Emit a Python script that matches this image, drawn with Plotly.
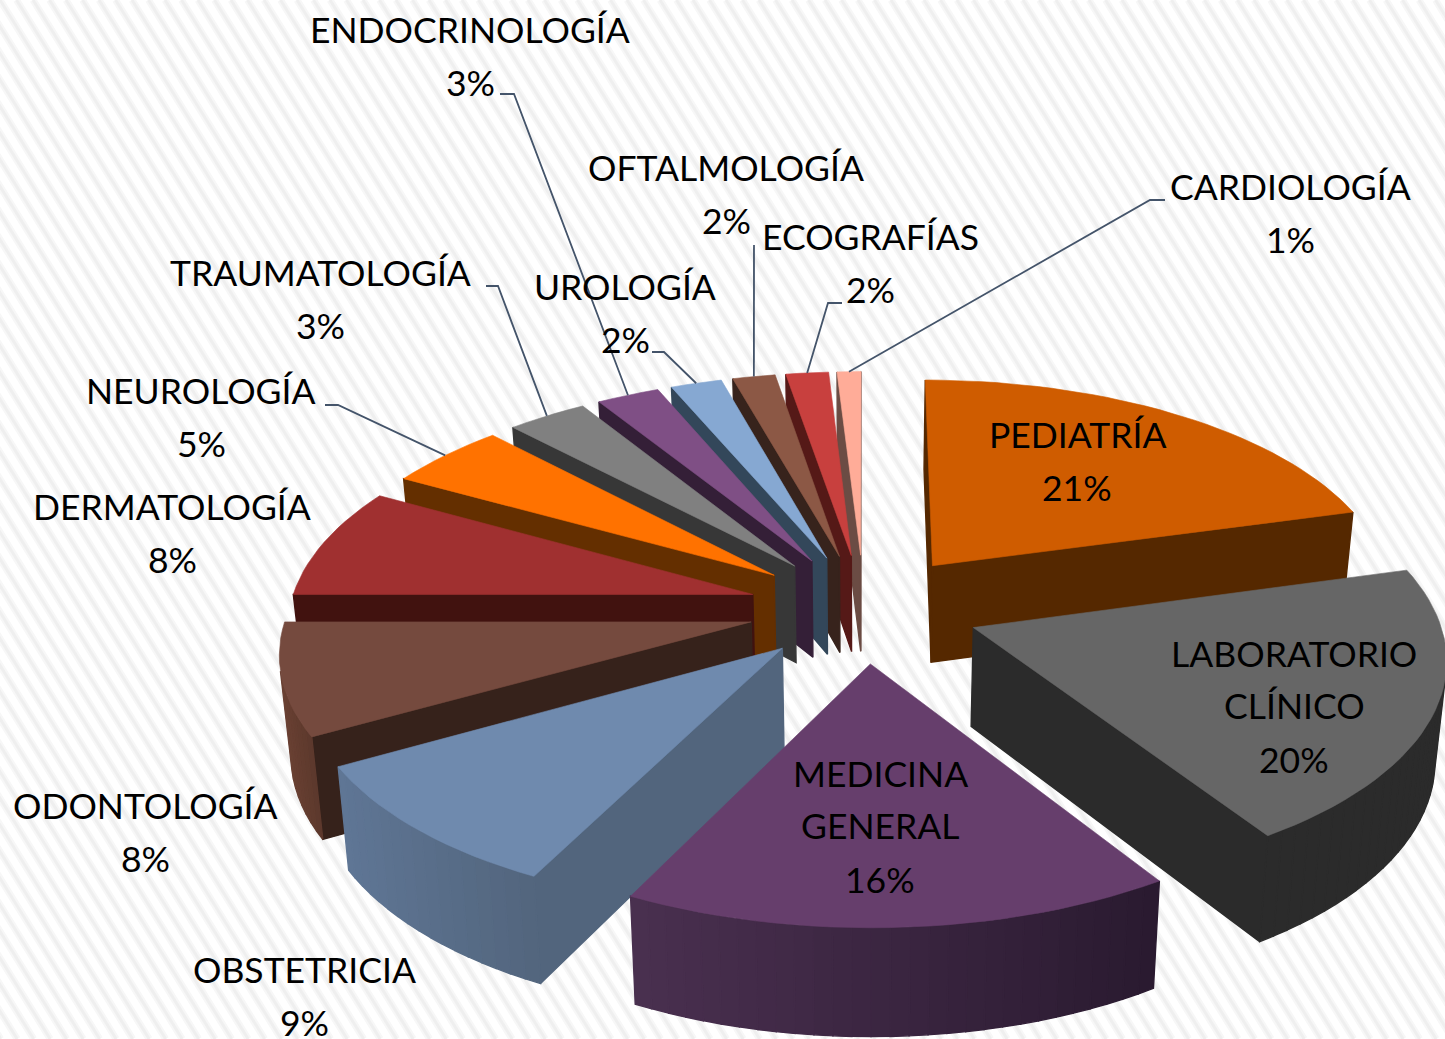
import math
import plotly.graph_objects as go

# ---------- data ----------
categories = ["PEDIATRÍA", "LABORATORIO CLÍNICO", "MEDICINA GENERAL", "OBSTETRICIA",
              "ODONTOLOGÍA", "DERMATOLOGÍA", "NEUROLOGÍA", "TRAUMATOLOGÍA",
              "ENDOCRINOLOGÍA", "UROLOGÍA", "OFTALMOLOGÍA", "ECOGRAFÍAS", "CARDIOLOGÍA"]
values = [20.7, 20.2, 16.5, 9.45, 8.15, 8.1, 4.8, 3.2, 2.51, 2.04, 1.7, 1.7, 0.95]
top_colors = ["#cf5c00", "#666666", "#663e6c", "#6f8aae", "#754a3e", "#a03030", "#ff7200",
              "#808080", "#7f4f85", "#86a8d2", "#8c5845", "#c8403e", "#ffac98"]
radial_colors = ["#552800", "#2b2b2b", "#2e1b33", "#52657d", "#36221b", "#41120f", "#642f00",
                 "#373737", "#341f37", "#33475a", "#37231c", "#551917", "#6b4c44"]
outer_left = ["#552800", "#2b2b2b", "#4a3050", "#5f7695", "#6a4133", "#41120f", "#642f00",
              "#373737", "#341f37", "#33475a", "#37231c", "#551917", "#6b4c44"]
outer_right = ["#552800", "#2b2b2b", "#2a1a30", "#52657d", "#5c382c", "#41120f", "#642f00",
               "#373737", "#341f37", "#33475a", "#37231c", "#551917", "#6b4c44"]
# painter's order: right-hand slices, then the fan from the back round to the front
draw_order = [0, 1, 12, 11, 10, 9, 8, 7, 6, 5, 4, 3, 2]

label_lines = [["PEDIATRÍA"], ["LABORATORIO", "CLÍNICO"], ["MEDICINA", "GENERAL"], ["OBSTETRICIA"],
               ["ODONTOLOGÍA"], ["DERMATOLOGÍA"], ["NEUROLOGÍA"], ["TRAUMATOLOGÍA"],
               ["ENDOCRINOLOGÍA"], ["UROLOGÍA"], ["OFTALMOLOGÍA"], ["ECOGRAFÍAS"], ["CARDIOLOGÍA"]]
label_x = [1077, 1294, 880, 304, 145, 172, 201, 320, 470, 625, 726, 870, 1290]
label_y = [434, 653, 773, 969, 805, 506, 390, 272, 29, 286, 167, 236, 186]
line_gap = 52.5
# leader elbows: (start, elbow) for labels with leader lines
leaders = {6: [(325, 405), (338, 405)], 7: [(486, 286), (498, 286)], 8: [(500, 94), (514, 94)],
           9: [(652, 352), (664, 352)], 10: [(754, 245), (754, 246)], 11: [(842, 303), (828, 303)],
           12: [(1165, 200), (1150, 200)]}

# ---------- projection ----------
CX, CY = 864.0, 608.0
A, B, K = 463.0, 217.5, 0.12
EXPLODE = 0.25
THICK, K2, SHRINK = 98.0, 0.08, 0.98


def top_pt(u, v):
    w = 1 + K * v
    return CX + A * u / w, CY - B * v / w


def low_pt(u, v):
    x, y = top_pt(u, v)
    return CX + (x - CX) * SHRINK, y + THICK / (1 + K2 * v)


def mix(c1, c2, t):
    a = [int(c1[i:i + 2], 16) for i in (1, 3, 5)]
    b = [int(c2[i:i + 2], 16) for i in (1, 3, 5)]
    return "#%02x%02x%02x" % tuple(round(p + (q - p) * t) for p, q in zip(a, b))


fig = go.Figure()


def poly(pts, color, edge=0.6):
    xs = [p[0] for p in pts] + [pts[0][0]]
    ys = [p[1] for p in pts] + [pts[0][1]]
    fig.add_trace(go.Scatter(x=xs, y=ys, mode="lines", fill="toself", fillcolor=color,
                             line=dict(color=color, width=edge), hoverinfo="skip", showlegend=False))


# background stripes
sx, sy = [], []
STEP, SLANT = 16.5, 0.62
n = -70
while n * STEP < 1445:
    sx += [n * STEP, n * STEP + SLANT * 1039, None]
    sy += [0, 1039, None]
    n += 1
fig.add_trace(go.Scatter(x=sx, y=sy, mode="lines", line=dict(color="#f7f7f7", width=7),
                         hoverinfo="skip", showlegend=False))
fig.add_trace(go.Scatter(x=sx, y=sy, mode="lines", line=dict(color="#efefef", width=3),
                         hoverinfo="skip", showlegend=False))

# slice geometry
total = sum(values)
bounds, acc = [], 0.0
for val in values:
    bounds.append((acc / total * 360, (acc + val) / total * 360))
    acc += val

arc_mid = {}
for i in draw_order:
    t1, t2 = bounds[i]
    mid = math.radians((t1 + t2) / 2)
    u0, v0 = EXPLODE * math.sin(mid), EXPLODE * math.cos(mid)
    segs = max(2, int((t2 - t1) / 2))
    ring = []
    for s in range(segs + 1):
        t = math.radians(t1 + (t2 - t1) * s / segs)
        ring.append((u0 + math.sin(t), v0 + math.cos(t)))
    arc_mid[i] = top_pt(u0 + math.sin(mid), v0 + math.cos(mid))
    gnd = [(u0, v0)] + ring
    top = [top_pt(*g) for g in gnd]
    low = [low_pt(*g) for g in gnd]
    xs_all = [p[0] for p in top[1:]]
    xmin, xmax = min(xs_all), max(xs_all)
    m = len(gnd)
    for j in range(m):
        k = (j + 1) % m
        p, q, q2, p2 = top[j], top[k], low[k], low[j]
        area = sum(a[0] * b[1] - b[0] * a[1]
                   for a, b in zip((p, q, q2, p2), (q, q2, p2, p)))
        if area >= 0:      # faces away from the viewer
            continue
        if j == 0 or k == 0:
            col = radial_colors[i]
        else:
            f = ((p[0] + q[0]) / 2 - xmin) / max(xmax - xmin, 1)
            col = mix(outer_left[i], outer_right[i], f)
        poly([p, q, q2, p2], col, edge=1.4)
    poly(top, top_colors[i])

# leader lines
lx, ly = [], []
for i, pts in leaders.items():
    end = arc_mid[i]
    for px, py in pts:
        lx.append(px)
        ly.append(py)
    lx += [end[0], None]
    ly += [end[1], None]
fig.add_trace(go.Scatter(x=lx, y=ly, mode="lines", line=dict(color="#44546a", width=1.8),
                         hoverinfo="skip", showlegend=False))

# labels
for i, lines in enumerate(label_lines):
    rows = lines + [f"{round(values[i] / total * 100)}%"]
    for r, row in enumerate(rows):
        is_pct = r == len(rows) - 1
        fig.add_annotation(x=label_x[i], y=label_y[i] + r * line_gap + (1 if is_pct else 0),
                           text=row, showarrow=False,
                           xanchor="center", yanchor="middle", xref="x", yref="y",
                           font=dict(family="Lato", size=35.5, color="#000000"))

fig.update_layout(width=1445, height=1039, margin=dict(l=0, r=0, t=0, b=0),
                  paper_bgcolor="#ffffff", plot_bgcolor="#ffffff", showlegend=False,
                  xaxis=dict(range=[0, 1445], visible=False, fixedrange=True),
                  yaxis=dict(range=[1039, 0], visible=False, fixedrange=True))
fig.write_html("out.html", config={"displayModeBar": False},
               post_script="document.body.style.margin='0';document.body.style.overflow='hidden';")
